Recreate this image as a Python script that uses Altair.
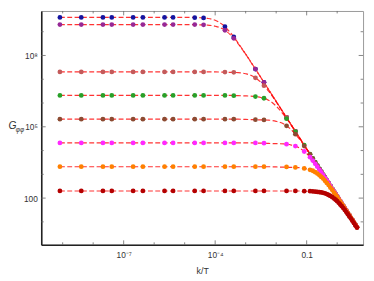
import math
import altair as alt
import pandas as pd

# ---------------- data (log10 values) ----------------
# x positions (log10 k/T) of the sampled points shared by all series
PTS_LX = [-9.09, -8.39, -7.68, -7.39, -6.69, -6.37, -5.66, -5.38,
          -4.67, -4.38, -3.68, -3.39, -2.68, -2.40, -1.66, -1.37]
# dense sampling at large k/T
DENSE_LX = [-1.08, -0.89, -0.80, -0.72, -0.65, -0.58, -0.52, -0.46, -0.40, -0.34,
            -0.28, -0.22, -0.16, -0.10, -0.05, 0.00, 0.05, 0.10, 0.15, 0.20,
            0.25, 0.30, 0.35, 0.40, 0.45, 0.50, 0.55, 0.60, 0.65]
# knots of the dashed fit curves
CURVE_LX = [-9.09, -8.0, -7.0, -6.0, -5.0, -4.75, -4.5, -4.25, -4.0, -3.75,
            -3.5, -3.25, -3.0, -2.75, -2.5, -2.25, -2.0, -1.75, -1.5, -1.25,
            -1.0, -0.75, -0.5, -0.25, 0.0, 0.25, 0.5, 0.65]

BLUE_PTS = [9.60, 9.60, 9.60, 9.60, 9.60, 9.60, 9.60, 9.60, 9.59, 9.58, 9.21, 8.78, 7.43, 6.87, 5.39, 4.81]
PURPLE_PTS = [9.30, 9.30, 9.30, 9.30, 9.30, 9.30, 9.30, 9.30, 9.30, 9.29, 9.06, 8.72, 7.43, 6.87, 5.39, 4.81]
ROSY_PTS = [7.31, 7.31, 7.31, 7.31, 7.31, 7.31, 7.31, 7.31, 7.31, 7.31, 7.30, 7.29, 7.06, 6.73, 5.39, 4.81]
GREEN_PTS = [6.32, 6.32, 6.32, 6.32, 6.32, 6.32, 6.32, 6.32, 6.32, 6.32, 6.32, 6.31, 6.27, 6.20, 5.34, 4.80]
BROWN_PTS = [5.32, 5.32, 5.32, 5.32, 5.32, 5.32, 5.32, 5.32, 5.32, 5.32, 5.32, 5.32, 5.30, 5.29, 5.04, 4.69]
MAGENTA_PTS = [4.32, 4.32, 4.32, 4.32, 4.32, 4.32, 4.32, 4.32, 4.32, 4.32, 4.32, 4.32, 4.32, 4.31, 4.27, 4.19]
ORANGE_PTS = [3.32, 3.32, 3.32, 3.32, 3.32, 3.32, 3.32, 3.32, 3.32, 3.32, 3.32, 3.32, 3.32, 3.32, 3.31, 3.29]
DARKRED_PTS = [2.30, 2.30, 2.30, 2.30, 2.30, 2.30, 2.30, 2.30, 2.30, 2.30, 2.30, 2.30, 2.30, 2.30, 2.30, 2.30]

GREEN_DENSE = [4.23, 3.85, 3.67, 3.51, 3.37, 3.23, 3.11, 2.99, 2.87, 2.75, 2.63, 2.51, 2.39, 2.27, 2.17,
               2.07, 1.97, 1.87, 1.77, 1.67, 1.57, 1.47, 1.37, 1.27, 1.17, 1.07, 0.97, 0.87, 0.77]
BROWN_DENSE = [4.19, 3.84, 3.66, 3.50, 3.37, 3.23, 3.11, 2.99, 2.87, 2.75, 2.63, 2.51, 2.39, 2.27, 2.17,
               2.07, 1.97, 1.87, 1.77, 1.67, 1.57, 1.47, 1.37, 1.27, 1.17, 1.07, 0.97, 0.87, 0.77]
MAGENTA_DENSE = [3.96, 3.72, 3.58, 3.44, 3.32, 3.19, 3.08, 2.97, 2.85, 2.74, 2.62, 2.50, 2.38, 2.27, 2.17,
                 2.07, 1.97, 1.87, 1.77, 1.67, 1.57, 1.47, 1.37, 1.27, 1.17, 1.07, 0.97, 0.87, 0.77]
ORANGE_DENSE = [3.25, 3.19, 3.15, 3.09, 3.03, 2.96, 2.89, 2.82, 2.73, 2.64, 2.55, 2.44, 2.34, 2.23, 2.14,
                2.05, 1.95, 1.85, 1.76, 1.66, 1.56, 1.46, 1.37, 1.27, 1.17, 1.07, 0.97, 0.87, 0.77]
DARKRED_DENSE = [2.29, 2.29, 2.28, 2.27, 2.26, 2.25, 2.24, 2.22, 2.20, 2.17, 2.13, 2.09, 2.04, 1.98, 1.93,
                 1.87, 1.80, 1.73, 1.66, 1.58, 1.50, 1.41, 1.32, 1.23, 1.14, 1.05, 0.95, 0.85, 0.76]

BLUE_CURVE = [9.60, 9.60, 9.60, 9.60, 9.60, 9.60, 9.59, 9.56, 9.48, 9.29, 8.96, 8.53, 8.06, 7.57,
              7.07, 6.57, 6.07, 5.57, 5.07, 4.57, 4.07, 3.57, 3.07, 2.57, 2.07, 1.57, 1.07, 0.77]
PURPLE_CURVE = [9.30, 9.30, 9.30, 9.30, 9.30, 9.30, 9.29, 9.28, 9.23, 9.12, 8.87, 8.50, 8.05, 7.56,
                7.07, 6.57, 6.07, 5.57, 5.07, 4.57, 4.07, 3.57, 3.07, 2.57, 2.07, 1.57, 1.07, 0.77]
ROSY_CURVE = [7.31, 7.31, 7.31, 7.31, 7.31, 7.31, 7.31, 7.31, 7.31, 7.30, 7.29, 7.28, 7.23, 7.12,
              6.87, 6.50, 6.05, 5.56, 5.07, 4.57, 4.07, 3.57, 3.07, 2.57, 2.07, 1.57, 1.07, 0.77]
GREEN_CURVE = [6.32, 6.32, 6.32, 6.32, 6.32, 6.32, 6.32, 6.32, 6.32, 6.32, 6.32, 6.31, 6.30, 6.28,
               6.23, 6.12, 5.87, 5.50, 5.05, 4.56, 4.07, 3.57, 3.07, 2.57, 2.07, 1.57, 1.07, 0.77]
BROWN_CURVE = [5.32, 5.32, 5.32, 5.32, 5.32, 5.32, 5.32, 5.32, 5.32, 5.32, 5.32, 5.32, 5.31, 5.30,
               5.29, 5.28, 5.23, 5.12, 4.87, 4.50, 4.05, 3.56, 3.07, 2.57, 2.07, 1.57, 1.07, 0.77]
MAGENTA_CURVE = [4.32, 4.32, 4.32, 4.32, 4.32, 4.32, 4.32, 4.32, 4.32, 4.32, 4.32, 4.32, 4.32, 4.32,
                 4.31, 4.30, 4.29, 4.28, 4.23, 4.12, 3.87, 3.50, 3.05, 2.56, 2.07, 1.57, 1.07, 0.77]
ORANGE_CURVE = [3.32, 3.32, 3.32, 3.32, 3.32, 3.32, 3.32, 3.32, 3.32, 3.32, 3.32, 3.32, 3.32, 3.32,
                3.32, 3.32, 3.31, 3.30, 3.29, 3.28, 3.23, 3.12, 2.87, 2.50, 2.05, 1.56, 1.07, 0.77]
DARKRED_CURVE = [2.30, 2.30, 2.30, 2.30, 2.30, 2.30, 2.30, 2.30, 2.30, 2.30, 2.30, 2.30, 2.30, 2.30,
                 2.30, 2.30, 2.30, 2.30, 2.30, 2.30, 2.29, 2.28, 2.23, 2.12, 1.87, 1.50, 1.05, 0.76]

SERIES_COLORS = ["#1414a0", "#962896", "#c35a5a", "#28a028",
                 "#8c4b32", "#ff28ff", "#ff8000", "#b40000"]
SERIES_PTS = [BLUE_PTS, PURPLE_PTS, ROSY_PTS, GREEN_PTS, BROWN_PTS, MAGENTA_PTS, ORANGE_PTS, DARKRED_PTS]
SERIES_DENSE = [[], [], [], GREEN_DENSE, BROWN_DENSE, MAGENTA_DENSE, ORANGE_DENSE, DARKRED_DENSE]
SERIES_CURVE = [BLUE_CURVE, PURPLE_CURVE, ROSY_CURVE, GREEN_CURVE, BROWN_CURVE,
                MAGENTA_CURVE, ORANGE_CURVE, DARKRED_CURVE]

X_LABEL_VALUES = [1e-7, 1e-4, 0.1]
X_LABELS = ["10⁻⁷", "10⁻⁴", "0.1"]
X_MINOR = [1e-9, 1e-8, 1e-6, 1e-5, 1e-3, 1e-2, 1.0]
Y_LABEL_VALUES = [1e2, 1e5, 1e8]
Y_LABELS = ["100", "10⁵", "10⁸"]
Y_MINOR = [1e1, 1e3, 1e4, 1e6, 1e7, 1e9]

X_DOMAIN_LOG = [-9.702, 0.849]
Y_DOMAIN_LOG = [0.037, 9.872]

# ---------------- chart ----------------
W, H = 329, 239
FONT = "Liberation Sans"

xs = alt.Scale(type="log", domain=[10 ** X_DOMAIN_LOG[0], 10 ** X_DOMAIN_LOG[1]], nice=False)
ys = alt.Scale(type="log", domain=[10 ** Y_DOMAIN_LOG[0], 10 ** Y_DOMAIN_LOG[1]], nice=False)


def label_expr(values, labels):
    expr = "''"
    for v, t in zip(values, labels):
        expr = f"(abs(log(datum.value)/log(10) - {math.log10(v)}) < 0.01 ? '{t}' : {expr})"
    return expr


x_axis = alt.Axis(values=X_LABEL_VALUES, labelExpr=label_expr(X_LABEL_VALUES, X_LABELS),
                  ticks=False, grid=False, domain=True, domainColor="#222", domainWidth=1.6,
                  labelFont=FONT, labelFontSize=8.5, labelColor="#333", labelPadding=6,
                  title="k/T", titleFont=FONT, titleFontSize=9, titleFontWeight="normal",
                  titleColor="#333", titlePadding=8)
y_axis = alt.Axis(values=Y_LABEL_VALUES, labelExpr=label_expr(Y_LABEL_VALUES, Y_LABELS),
                  ticks=False, grid=False, domain=True, domainColor="#222", domainWidth=1.6,
                  labelFont=FONT, labelFontSize=8.5, labelColor="#333", labelPadding=4,
                  title=None)

X = alt.X("x:Q", scale=xs, axis=x_axis)
Y = alt.Y("y:Q", scale=ys, axis=y_axis)

layers = []
for color, pts, dense, curve in zip(SERIES_COLORS, SERIES_PTS, SERIES_DENSE, SERIES_CURVE):
    line_df = pd.DataFrame({"x": [10 ** v for v in CURVE_LX], "y": [10 ** v for v in curve]})
    pt_lx = PTS_LX + DENSE_LX[:len(dense)]
    pt_df = pd.DataFrame({"x": [10 ** v for v in pt_lx], "y": [10 ** v for v in pts + dense]})
    layers.append(alt.Chart(line_df).mark_line(color="#ff0000", strokeDash=[5, 2.5], strokeWidth=1.2,
                                               opacity=0.8, interpolate="monotone", clip=True)
                  .encode(x=X, y=Y))
    layers.append(alt.Chart(pt_df).mark_circle(color=color, size=24, opacity=1)
                  .encode(x=X, y=Y))

TICK_COLOR = "#666"


def xticks(values, length, top):
    df = pd.DataFrame({"x": values})
    if top:
        enc = dict(y=alt.value(0), y2=alt.value(length))
    else:
        enc = dict(y=alt.value(H), y2=alt.value(H - length))
    return alt.Chart(df).mark_rule(color=TICK_COLOR, strokeWidth=0.8).encode(x=X, **enc)


def yticks(values, length, right):
    df = pd.DataFrame({"y": values})
    if right:
        enc = dict(x=alt.value(W), x2=alt.value(W - length))
    else:
        enc = dict(x=alt.value(0), x2=alt.value(length))
    return alt.Chart(df).mark_rule(color=TICK_COLOR, strokeWidth=0.8).encode(y=Y, **enc)


for top in (False, True):
    layers.append(xticks(X_LABEL_VALUES, 4.5, top))
    layers.append(xticks(X_MINOR, 2.5, top))
for right in (False, True):
    layers.append(yticks(Y_LABEL_VALUES, 4.5, right))
    layers.append(yticks(Y_MINOR, 2.5, right))

one = alt.Data(values=[{"a": 1}])
layers.append(alt.Chart(one).mark_text(text="G", font=FONT, fontSize=10.5, fontStyle="italic",
                                        color="#333", align="left", baseline="middle")
              .encode(x=alt.value(-33.5), y=alt.value(118)))
layers.append(alt.Chart(one).mark_text(text="φφ", font=FONT, fontSize=6.5, fontStyle="italic",
                                        color="#333", align="left", baseline="middle")
              .encode(x=alt.value(-26), y=alt.value(121.5)))

chart = alt.layer(*layers).properties(
    width=W, height=H,
    autosize=alt.AutoSizeParams(type="none"),
    padding={"left": 34, "top": 0, "right": 3, "bottom": 34},
    background="white",
).configure_view(stroke="#999", strokeWidth=1)

chart.save("out.html", embed_options={"renderer": "svg", "actions": False})
